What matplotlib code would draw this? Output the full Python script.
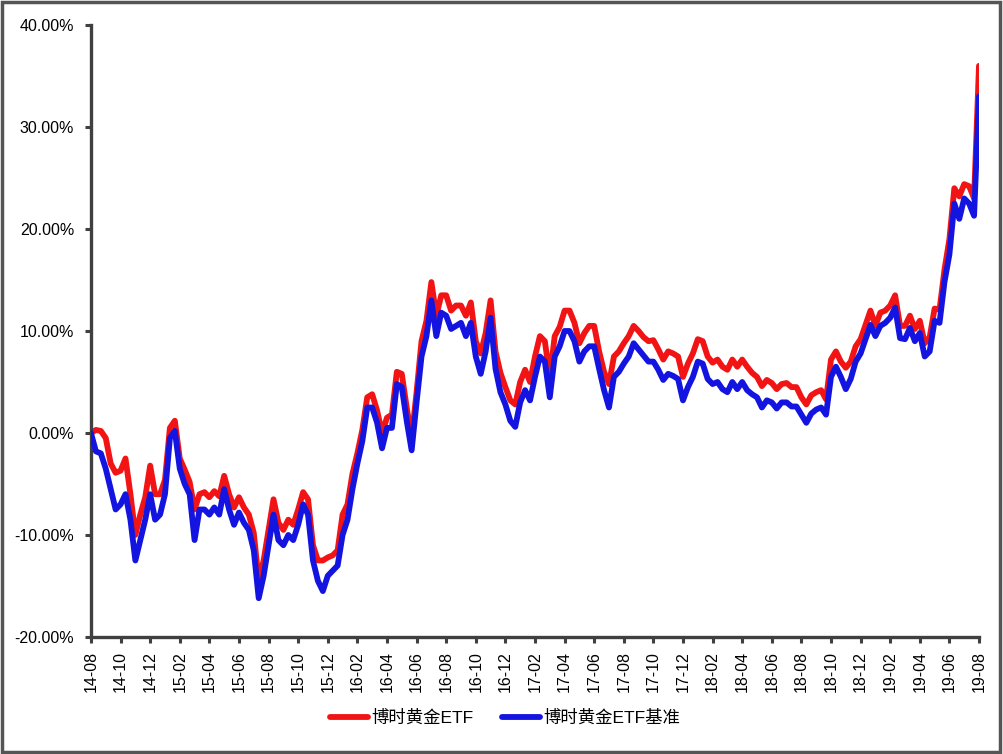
import numpy as np
import matplotlib
matplotlib.use("Agg")
import matplotlib.pyplot as plt
from matplotlib.patches import Rectangle

plt.rcParams['font.family'] = ['Liberation Sans', 'Noto Sans CJK SC', 'DejaVu Sans']

# 累计收益率（%），从2014-08起每1/3个月取一个点
etf = [0.0, 0.3, 0.2, -0.5, -3.0, -3.9, -3.7, -2.5, -6.0, -10.0,
       -8.0, -6.3, -3.2, -6.0, -6.0, -4.6, 0.5, 1.2, -2.5, -3.6,
       -4.8, -7.5, -6.0, -5.8, -6.3, -5.7, -6.2, -4.2, -6.0, -7.3,
       -6.3, -7.3, -8.0, -9.8, -14.5, -12.5, -9.5, -6.5, -8.8, -9.5,
       -8.5, -9.0, -7.5, -5.8, -6.5, -11.0, -12.5, -12.5, -12.2, -12.0,
       -11.5, -8.0, -7.0, -4.0, -2.0, 0.3, 3.5, 3.8, 2.2, 0.0,
       1.5, 1.8, 6.0, 5.8, 2.5, -0.5, 4.0, 9.0, 11.0, 14.8,
       11.5, 13.5, 13.5, 12.0, 12.5, 12.5, 11.5, 12.8, 9.0, 7.8,
       9.8, 13.0, 8.0, 5.9, 4.5, 3.2, 2.8, 5.0, 6.2, 5.0,
       7.5, 9.5, 9.0, 5.5, 9.5, 10.4, 12.0, 12.0, 10.8, 8.8,
       9.8, 10.5, 10.5, 8.0, 6.0, 4.8, 7.5, 8.0, 8.8, 9.5,
       10.5, 10.0, 9.4, 9.0, 9.1, 8.2, 7.2, 8.0, 7.8, 7.5,
       5.5, 6.8, 7.8, 9.2, 9.0, 7.5, 6.9, 7.2, 6.5, 6.2,
       7.2, 6.5, 7.2, 6.5, 5.9, 5.5, 4.6, 5.2, 4.9, 4.3,
       4.8, 4.9, 4.5, 4.5, 3.5, 2.8, 3.7, 4.0, 4.2, 3.3,
       7.2, 8.0, 7.0, 6.4, 7.0, 8.5, 9.2, 10.6, 12.0, 10.5,
       11.8, 12.0, 12.5, 13.5, 10.5, 10.5, 11.5, 10.2, 11.0, 8.8,
       9.4, 12.2, 12.1, 16.0, 19.0, 24.0, 23.2, 24.4, 24.2, 23.0,
       36.0]

benchmark = [0.0, -1.8, -2.0, -3.5, -5.5, -7.5, -7.0, -6.0, -8.5, -12.5,
             -10.5, -8.5, -6.0, -8.5, -8.0, -6.0, -0.5, 0.2, -3.5, -5.0,
             -6.0, -10.5, -7.5, -7.5, -8.0, -7.3, -8.0, -5.5, -7.5, -9.0,
             -7.8, -8.8, -9.5, -11.5, -16.2, -14.0, -11.0, -8.0, -10.5, -11.0,
             -10.0, -10.5, -9.0, -7.0, -8.0, -12.5, -14.5, -15.5, -14.0, -13.5,
             -13.0, -10.0, -8.5, -5.5, -3.0, -0.8, 2.5, 2.5, 1.0, -1.5,
             0.5, 0.5, 4.8, 4.5, 1.2, -1.7, 3.0, 7.5, 9.5, 13.0,
             9.5, 11.8, 11.5, 10.2, 10.5, 10.8, 9.5, 10.8, 7.5, 5.8,
             8.0, 11.3, 6.3, 4.0, 2.8, 1.2, 0.6, 3.0, 4.2, 3.2,
             5.5, 7.5, 7.0, 3.5, 7.5, 8.5, 10.0, 10.0, 9.0, 7.0,
             8.0, 8.5, 8.5, 6.3, 4.2, 2.5, 5.5, 6.0, 6.8, 7.5,
             8.8, 8.2, 7.6, 7.0, 7.0, 6.2, 5.2, 5.8, 5.6, 5.3,
             3.2, 4.5, 5.5, 7.0, 6.8, 5.3, 4.8, 5.0, 4.3, 4.0,
             5.0, 4.3, 5.0, 4.2, 3.8, 3.5, 2.5, 3.2, 3.0, 2.4,
             3.0, 3.0, 2.6, 2.6, 1.8, 1.0, 1.9, 2.3, 2.5, 1.8,
             5.5, 6.5, 5.5, 4.3, 5.3, 7.0, 7.8, 9.2, 10.6, 9.5,
             10.5, 10.8, 11.3, 12.3, 9.3, 9.2, 10.3, 9.0, 9.8, 7.5,
             8.0, 11.0, 10.8, 14.8, 17.5, 22.5, 21.0, 23.0, 22.5, 21.3,
             33.0]

tick_labels = ['14-08', '14-10', '14-12', '15-02', '15-04', '15-06', '15-08',
               '15-10', '15-12', '16-02', '16-04', '16-06', '16-08', '16-10',
               '16-12', '17-02', '17-04', '17-06', '17-08', '17-10', '17-12',
               '18-02', '18-04', '18-06', '18-08', '18-10', '18-12', '19-02',
               '19-04', '19-06', '19-08']

months = np.arange(len(etf)) / 3.0

fig = plt.figure(figsize=(10.04, 7.54), dpi=100)
ax = fig.add_axes([0.0906, 0.1552, 0.8845, 0.8116])

line_kw = dict(lw=4.2, solid_capstyle='round', solid_joinstyle='round')
ax.plot(months, etf, color='#f21414', label='博时黄金ETF', zorder=2, **line_kw)
ax.plot(months, benchmark, color='#1414e0', label='博时黄金ETF基准', zorder=3, **line_kw)

ax.set_xlim(0, 60)
ax.set_ylim(-20, 40)
ax.set_yticks(np.arange(-20, 41, 10))
ax.set_yticklabels(['{:.2f}%'.format(v) for v in np.arange(-20, 41, 10)])
ax.set_xticks(np.arange(0, 61, 2))
ax.set_xticklabels(tick_labels, rotation=90)

for s in ['top', 'right']:
    ax.spines[s].set_visible(False)
for s in ['left', 'bottom']:
    ax.spines[s].set_color('#404040')
    ax.spines[s].set_linewidth(2.4)
ax.tick_params(axis='both', direction='out', length=4, width=2.2, color='#404040',
               labelsize=11.5, labelcolor='black')
ax.tick_params(axis='y', pad=8)
ax.tick_params(axis='x', pad=6)

fig.legend(loc='center', bbox_to_anchor=(0.503, 0.048), ncol=2, frameon=False,
           fontsize=12.5, handlelength=2.2, columnspacing=1.6, handletextpad=0.2)

fig.patches.append(Rectangle((0.002, 0.003), 0.994, 0.994, transform=fig.transFigure,
                             fill=False, edgecolor='#555555', lw=2.5))

fig.savefig('out.png', dpi=100)
